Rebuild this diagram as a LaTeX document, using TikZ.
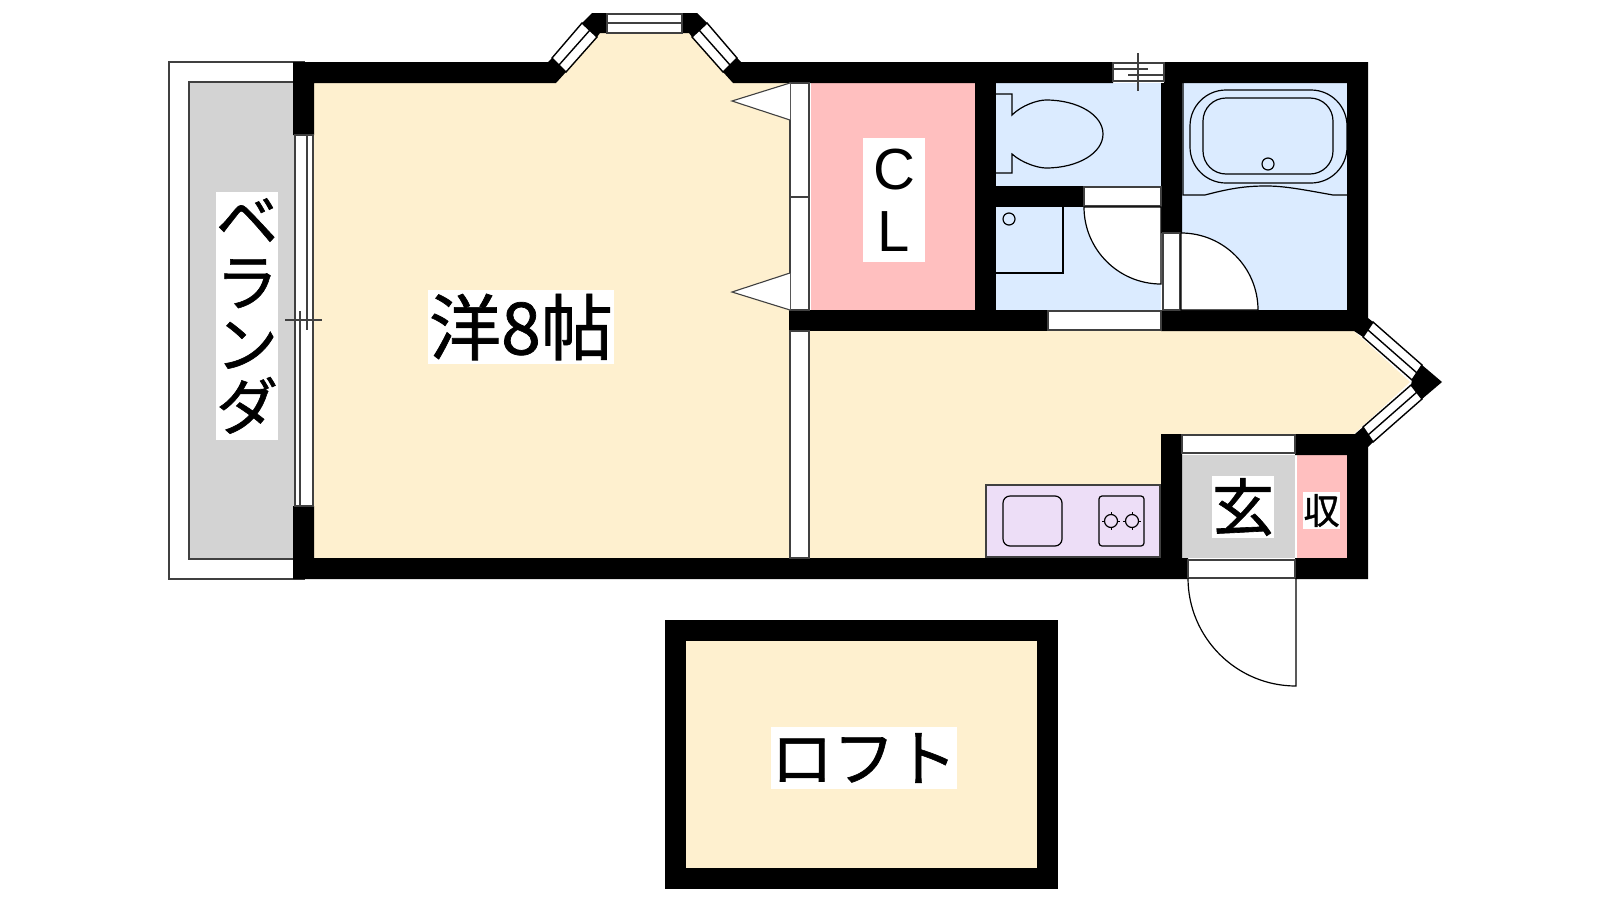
\documentclass[tikz,border=0pt]{standalone}
\usepackage{fontspec}
\newfontfamily\jpfont[FakeBold = 1]{Noto Sans CJK JP}
\newfontfamily\clfont{Liberation Sans}
\definecolor{roomcream}{HTML}{FEF0CF}
\definecolor{clpink}{HTML}{FFBFBF}
\definecolor{wetblue}{HTML}{DBEBFF}
\definecolor{floorgray}{HTML}{D3D3D3}
\definecolor{kitchenlilac}{HTML}{EDDEF7}
\definecolor{sashgray}{HTML}{404040}
\tikzset{
  wall/.style = {fill = black},
  sash/.style = {draw = sashgray, line width = 1.1pt},
  panel/.style = {sash, fill = white},
  baysash/.style = {draw = black, line width = 1.4pt},
  baypanel/.style = {baysash, fill = white},
  fixture/.style = {draw = black, line width = 1.2pt},
  roomlabel/.style = {fill = white, inner sep = 0pt, align = center, text = black}
}
\begin{document}
\begin{tikzpicture}[x = 1pt, y = -1pt]
\useasboundingbox (0,0) rectangle (1600,900);
\fill [white] (0,0) rectangle (1600,900);
\draw [panel] (169,62) rectangle (304,579);
\draw [sash, fill = floorgray] (189,82) rectangle (304,559);
\fill [roomcream] (314,83) -- (556,83) -- (600,33) -- (690,33) -- (733,83) -- (790,83) -- (790,331) -- (1354,331) -- (1410,382) -- (1354,434) -- (1161,434) -- (1161,558) -- (314,558) -- cycle;
\fill [roomcream] (686,641) rectangle (1037,868);
\fill [clpink] (811,83) rectangle (975,310);
\fill [clpink] (1297,455) rectangle (1347,558);
\fill [wetblue] (996,83) rectangle (1161,310);
\fill [wetblue] (1182,83) rectangle (1347,310);
\fill [floorgray] (1182,455) rectangle (1295,558);
% outer walls
\fill [wall] (293,62) -- (548,62) -- (552,58) -- (566,72) -- (556,83) -- (314,83) -- (314,135) -- (293,135) -- cycle;
\fill [wall] (293,506) -- (314,506) -- (314,558) -- (1161,558) -- (1161,434) -- (1182,434) -- (1182,558) -- (1188,558) -- (1188,579) -- (293,579) -- cycle;
\fill [wall] (1295,434) -- (1355,434) -- (1363,427) -- (1373,442) -- (1368,447) -- (1368,579) -- (1295,579) -- (1295,558) -- (1347,558) -- (1347,455) -- (1295,455) -- cycle;
\fill [wall] (723,72) -- (737,58) -- (741,62) -- (1113,62) -- (1113,83) -- (733,83) -- cycle;
\fill [wall] (1164,62) -- (1368,62) -- (1368,318) -- (1373,322) -- (1363,337) -- (1354,331) -- (1161,331) -- (1161,310) -- (1347,310) -- (1347,83) -- (1182,83) -- (1182,233) -- (1161,233) -- (1161,83) -- (1164,83) -- cycle;
\fill [wall] (975,83) rectangle (996,310);
\fill [wall] (789,310) rectangle (1048,331);
\fill [wall] (996,186) rectangle (1084,207);
\fill [wall] (592,13) -- (607,13) -- (607,33) -- (600,33) -- (597,37) -- (582,23) -- cycle;
\fill [wall] (682,13) -- (697,13) -- (707,23) -- (692,37) -- (689,33) -- (682,33) -- cycle;
\fill [wall] (1422,365) -- (1442,382) -- (1422,399) -- (1411,385) -- (1412,380) -- cycle;
\fill [wall] (665,620) rectangle (1058,641);
\fill [wall] (665,868) rectangle (1058,889);
\fill [wall] (665,641) rectangle (686,868);
\fill [wall] (1037,641) rectangle (1058,868);
% windows
\draw [panel] (607,14) rectangle (682,33);
\draw [sash] (607,23) -- (682,23);
\draw [baypanel] (552,58) -- (566,72) -- (597,37) -- (582,23) -- cycle;
\draw [baysash] (559,65) -- (590,30);
\draw [baypanel] (737,58) -- (723,72) -- (692,37) -- (707,23) -- cycle;
\draw [baysash] (730,65) -- (699,30);
\draw [baypanel] (1373,322) -- (1422,365) -- (1412,380) -- (1363,337) -- cycle;
\draw [baysash] (1368,330) -- (1417,373);
\draw [baypanel] (1363,427) -- (1373,442) -- (1422,399) -- (1411,385) -- cycle;
\draw [baysash] (1368,435) -- (1417,392);
\draw [panel] (295,135) rectangle (313,506);
\draw [sash] (307,135) -- (307,330);
\draw [sash] (300,311) -- (300,506);
\draw [sash] (285,320) -- (322,320);
\draw [panel] (1113,63) rectangle (1164,81);
\draw [sash] (1113,69) -- (1148,69);
\draw [sash] (1128,75) -- (1164,75);
\draw [sash] (1138,53) -- (1138,91);
% sliding doors and door leaves
\draw [panel] (790,83) rectangle (809,310);
\draw [sash] (790,197) -- (809,197);
\draw [panel] (790,331) rectangle (809,558);
\draw [panel] (790,83) -- (732,101) -- (790,120);
\draw [panel] (790,273) -- (732,292) -- (790,310);
\draw [panel] (1048,311) rectangle (1161,330);
\draw [panel] (1084,187) rectangle (1161,206);
\draw [panel] (1182,435) rectangle (1295,453);
\draw [panel] (1188,560) rectangle (1295,578);
\draw [panel] (1163,233) rectangle (1180,310);
\draw [fixture, fill = white] (1084,207) .. controls (1084,249.5) and (1118.5,284) .. (1161,284) -- (1161,207) -- cycle;
\draw [fixture, fill = white] (1181,233) .. controls (1223.5,233) and (1258,267.5) .. (1258,310) -- (1181,310) -- cycle;
\draw [fixture] (1188,578) .. controls (1188,637.6) and (1236.4,686) .. (1296,686) -- (1296,578);
% toilet, basin and bath
\draw [fixture] (996,94) -- (1012,94) -- (1012,115) .. controls (1022,105) and (1038,100) .. (1046,100) .. controls (1078,100) and (1103,115) .. (1103,134) .. controls (1103,153) and (1078,168) .. (1046,168) .. controls (1038,168) and (1022,163) .. (1012,154) -- (1012,173) -- (996,173);
\draw [fixture] (996,273) -- (1063,273) -- (1063,207);
\draw [fixture] (1009,219) circle [radius = 6];
\draw [fixture] (1183,83) -- (1183,195) -- (1205,195) .. controls (1235,187) and (1250,186) .. (1267,186) .. controls (1285,186) and (1305,190) .. (1333,195) -- (1347,195);
\draw [fixture, rounded corners = 36pt] (1190,90) rectangle (1347,183);
\draw [fixture, rounded corners = 23pt] (1203,98) rectangle (1333,174);
\draw [fixture] (1268,164) circle [radius = 6];
% kitchen
\draw [sash, fill = kitchenlilac] (986,485) rectangle (1160,557);
\draw [fixture, rounded corners = 7pt] (1003,496) rectangle (1062,546);
\draw [fixture, rounded corners = 3pt] (1099,496) rectangle (1144,546);
\foreach \burnerx in {1111,1132} {
  \draw [fixture] (\burnerx,521) circle [radius = 6.5];
  \draw [fixture, line width = 0.8pt] (\burnerx - 9,521) -- (\burnerx - 6,521);
  \draw [fixture, line width = 0.8pt] (\burnerx + 6,521) -- (\burnerx + 9,521);
  \draw [fixture, line width = 0.8pt] (\burnerx,512) -- (\burnerx,515);
  \draw [fixture, line width = 0.8pt] (\burnerx,527) -- (\burnerx,530);
}
% labels
\node (veranda) [roomlabel, minimum width = 62pt, minimum height = 248pt, font = \fontsize{62}{62}\selectfont\jpfont] at (247,316) {ベ\\ラ\\ン\\ダ};
\node (western) [roomlabel, minimum width = 186pt, minimum height = 74pt, font = \fontsize{72}{74}\selectfont\jpfont] at (521,327) {洋8帖};
\node (closet) [roomlabel, minimum width = 62pt, minimum height = 124pt, font = \fontsize{58}{62}\selectfont\clfont] at (894,200) {C\\L};
\node (entrance) [roomlabel, minimum width = 62pt, minimum height = 62pt, font = \fontsize{62}{62}\selectfont\jpfont] at (1243,507) {玄};
\node (storage) [roomlabel, minimum width = 37pt, minimum height = 37pt, font = \fontsize{36}{37}\selectfont\jpfont] at (1321.5,510.5) {収};
\node (loft) [roomlabel, minimum width = 186pt, minimum height = 62pt, font = \fontsize{62}{62}\selectfont\jpfont] at (864,758) {ロフト};
\end{tikzpicture}
\end{document}
